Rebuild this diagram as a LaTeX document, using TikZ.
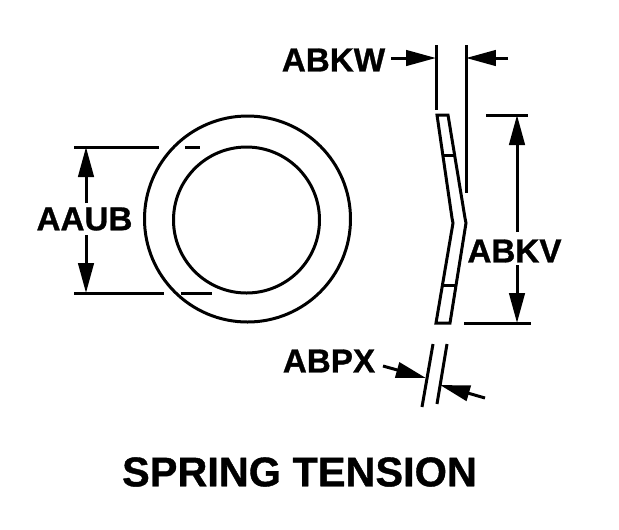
\documentclass[tikz,border=0pt]{standalone}
\usepackage{fontspec}
\setmainfont{Liberation Sans}[BoldFeatures={FakeBold=0.9}]
\usetikzlibrary{arrows.meta}

\begin{document}
\begin{tikzpicture}[x=0.02cm, y=-0.02cm, line width=0.06cm, -, line join=miter,
label node/.style={inner sep=0, font=\bfseries\fontsize{18.9}{20}\selectfont},
title node/.style={inner sep=0, font=\bfseries\fontsize{23.6}{26}\selectfont},
dim/.style={-{Triangle[length=0.6cm,width=0.31cm]}}]
\useasboundingbox (0,0) rectangle (619,529);
\node[label node] (aaub) at (84.5,219) {AAUB};
\node[label node] (abkw) at (333.5,60) {ABKW};
\node[label node] (abkv) at (514.5,251) {ABKV};
\node[label node] (abpx) at (329,361) {ABPX};
\node[title node] (title) at (299.5,472) {SPRING TENSION};
\coordinate (aaubtop) at (86,147);
\coordinate (aaubbot) at (86,293);
\coordinate (aaubup) at (86,203);
\coordinate (aaubdown) at (86,235);
\coordinate (kwleft) at (436,58);
\coordinate (kwright) at (466,58);
\coordinate (kwa) at (391,58);
\coordinate (kwb) at (508,58);
\coordinate (kvtop) at (517,115);
\coordinate (kvbot) at (517,323);
\coordinate (kvup) at (517,232);
\coordinate (kvdown) at (517,265);
\coordinate (pxa) at (383,366);
\coordinate (pxb) at (426,378);
\coordinate (pxc) at (485,398);
\coordinate (pxd) at (440,385);
% ring
\draw (247.5,219) circle (103);
\draw (246.5,220) circle (73);
% extension lines
\draw (74,147) -- (159,147) (185,147) -- (200,147);
\draw (74,293) -- (164,293) (181,293) -- (212,293);
\draw (436,45) -- (436,110);
\draw (466,45) -- (466,193);
\draw (486,115) -- (528,115);
\draw (464,323) -- (531,323);
\draw (433,344) -- (422,407);
\draw (447,344) -- (437,404);
% spring side view
\draw (437,115) -- (448,115) -- (465,218) -- (466,223) -- (450,323) -- (436,323) -- (453,223) -- (452,218) -- cycle;
\draw (443,155) -- (454,155);
\draw (443,285) -- (455,285);
% dimensions
\path[dim]
(aaubup) edge (aaubtop)
(aaubdown) edge (aaubbot)
(kwa) edge (kwleft)
(kwb) edge (kwright)
(kvup) edge (kvtop)
(kvdown) edge (kvbot)
(pxa) edge (pxb)
(pxc) edge (pxd);
\end{tikzpicture}
\end{document}
